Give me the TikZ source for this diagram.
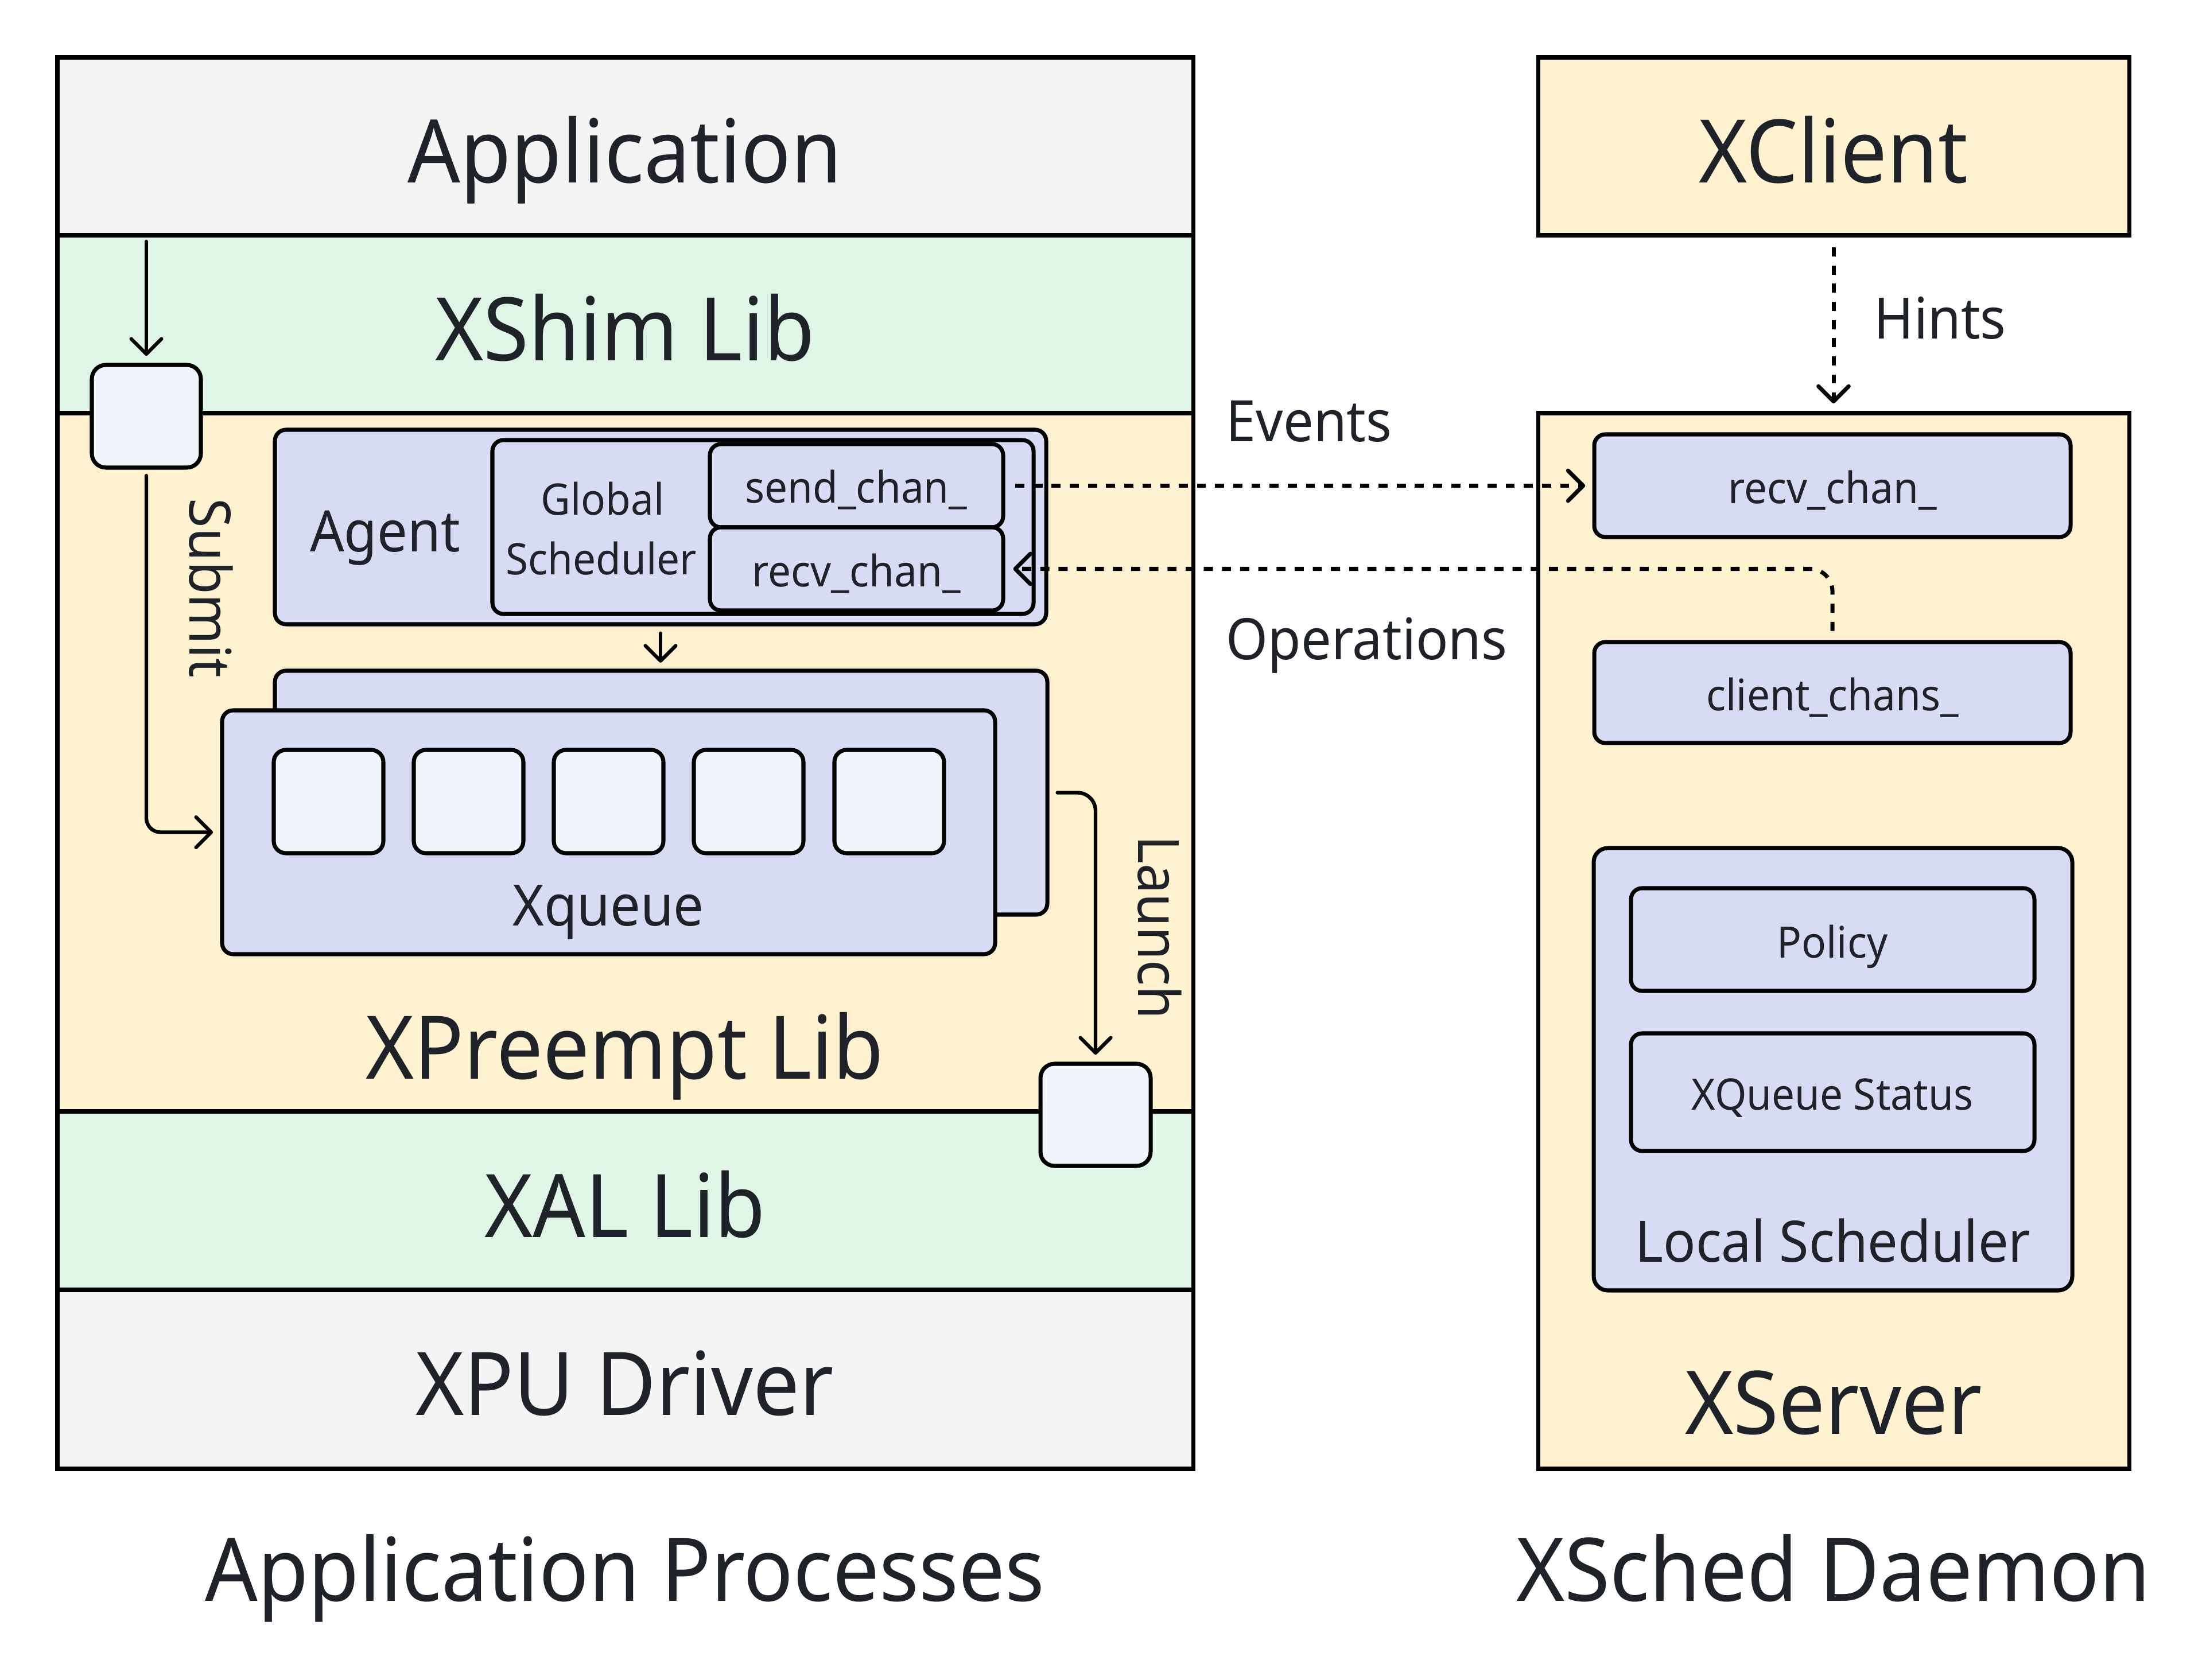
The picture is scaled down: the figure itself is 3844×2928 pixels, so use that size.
\documentclass[tikz,border=0pt]{standalone}
\usepackage{fontspec}
\setmainfont{Noto Sans}[FakeStretch=0.94]
\usetikzlibrary{arrows.meta,fit}
\definecolor{txt}{HTML}{1F2329}
\definecolor{greyc}{HTML}{F4F4F4}
\definecolor{greenc}{HTML}{DFF5E6}
\definecolor{yellowc}{HTML}{FEF2D0}
\definecolor{lavc}{HTML}{D7DCF4}
\definecolor{sqc}{HTML}{EFF4FD}
\begin{document}
\begin{tikzpicture}[x=0.01cm,y=-0.01cm,
  box/.style={draw=black, line width=2pt, inner sep=0pt, outer sep=0pt},
  rbox/.style={box, rounded corners=5.5pt, fill=lavc},
  sqbox/.style={box, rounded corners=7pt, fill=sqc},
  bigt/.style={font=\fontsize{43.5}{50}\selectfont, text=txt, inner sep=0pt, anchor=base},
  midt/.style={font=\fontsize{28.3}{34}\selectfont, text=txt, inner sep=0pt, anchor=base},
  smallt/.style={font=\fontsize{21.5}{26}\selectfont, text=txt, inner sep=0pt, anchor=base},
  arr/.style={line width=1.8pt, line cap=round, -{Straight Barb[length=7.5pt,width=15pt,line cap=round,line join=round]}},
  dotarr/.style={arr, line width=2pt, line cap=butt, dash pattern=on 4.5pt off 4.5pt}
]
\useasboundingbox (0,0) rectangle (3844,2928);
\fill[white] (0,0) rectangle (3844,2928);

% ---------- left stack ----------
\node[box, fill=greyc, fit={(100,100) (2079,410)}] (app) {};
\node[box, fill=greenc, fit={(100,410) (2079,720)}] (shim) {};
\node[box, fill=yellowc, fit={(100,720) (2079,1937)}] (preempt) {};
\node[box, fill=greenc, fit={(100,1937) (2079,2248)}] (xal) {};
\node[box, fill=greyc, fit={(100,2248) (2079,2560)}] (drv) {};

\node[bigt] (appT) at (1089,319) {Application};
\node[bigt] (shimT) at (1089,629) {XShim Lib};
\node[bigt] (preemptT) at (1089,1880) {XPreempt Lib};
\node[bigt] (xalT) at (1089,2156) {XAL Lib};
\node[bigt] (drvT) at (1089,2466) {XPU Driver};

% Agent
\node[rbox, fit={(479,749) (1823,1088)}] (agent) {};
\node[midt] (agentT) at (671,962) {Agent};
\node[rbox, fit={(858,767) (1801,1070)}] (gs) {};
\node[smallt] (gsT1) at (1050,898) {Global};
\node[smallt] (gsT2) at (1048,1002) {Scheduler};
\node[rbox, fit={(1237,774) (1748,919)}] (sendA) {};
\node[smallt] (sendAT) at (1492,877) {send\_chan\_};
\node[rbox, fit={(1237,919) (1748,1064)}] (recvA) {};
\node[smallt] (recvAT) at (1492,1023) {recv\_chan\_};

% Xqueue
\node[rbox, fit={(479,1169) (1825,1594)}] (xqb) {};
\node[rbox, fit={(387,1238) (1734,1663)}] (xqf) {};
\node[sqbox, rounded corners=6pt, fit={(477,1307) (668,1487)}] (q1) {};
\node[sqbox, rounded corners=6pt, fit={(721,1307) (912,1487)}] (q2) {};
\node[sqbox, rounded corners=6pt, fit={(965,1307) (1156,1487)}] (q3) {};
\node[sqbox, rounded corners=6pt, fit={(1209,1307) (1400,1487)}] (q4) {};
\node[sqbox, rounded corners=6pt, fit={(1454,1307) (1645,1487)}] (q5) {};
\node[midt] (xqT) at (1060,1613) {Xqueue};

% small squares
\node[sqbox, fit={(160,636) (350,815)}] (sq1) {};
\node[sqbox, fit={(1813,1854) (2005,2032)}] (sq2) {};

% left connectors
\draw[arr, shorten >=4.5pt] ([yshift=-0.11cm]sq1.north |- shim.north) -- (sq1.north);
\draw[arr, rounded corners=7pt, shorten <=4pt, shorten >=4.5pt] (sq1.south) |- (xqf.west);
\node[midt, rotate=-90] (submitT) at (330,1025) {Submit};
\draw[arr, shorten <=4.5pt, shorten >=4pt] (agent.south) -- (agent.south |- xqb.north);
\draw[arr, rounded corners=9pt, shorten <=5pt, shorten >=4.5pt] (xqb.east) -| (sq2.north);
\node[midt, rotate=-90] (launchT) at (1983,1616) {Launch};

% ---------- right side ----------
\node[box, fill=yellowc, fit={(2680,100) (3710,410)}] (client) {};
\node[bigt] (clientT) at (3195,319) {XClient};
\node[box, fill=yellowc, fit={(2680,720) (3710,2560)}] (server) {};
\node[bigt] (serverT) at (3195,2499) {XServer};

\node[rbox, fit={(2778,757) (3608,936)}] (recvS) {};
\node[smallt] (recvST) at (3193,878) {recv\_chan\_};
\node[rbox, fit={(2778,1119) (3608,1295)}] (cchan) {};
\node[smallt] (cchanT) at (3193,1239) {client\_chans\_};

\node[rbox, rounded corners=7pt, fit={(2777,1478) (3611,2249)}] (lsched) {};
\node[rbox, fit={(2842,1548) (3545,1727)}] (policy) {};
\node[smallt] (policyT) at (3193,1669) {Policy};
\node[rbox, fit={(2842,1801) (3545,2006)}] (xqs) {};
\node[smallt] (xqsT) at (3193,1934) {XQueue Status};
\node[midt] (lschedT) at (3194,2199) {Local Scheduler};

% cross connectors
\draw[dotarr, shorten <=6pt, shorten >=4.5pt] (sendA.east) -- (recvS.west);
\draw[dotarr, rounded corners=11pt, shorten <=5.5pt, shorten >=5pt] (cchan.north) |- (recvA.east);
\draw[dotarr, shorten <=6pt, shorten >=4.8pt] (client.south) -- (client.south |- server.north);

\node[midt, anchor=base west] (eventsT) at (2136,770) {Events};
\node[midt, anchor=base west] (opsT) at (2136,1150) {Operations};
\node[midt, anchor=base west] (hintsT) at (3265,591) {Hints};

% ---------- captions ----------
\node[bigt] (capL) at (1089,2790) {Application Processes};
\node[bigt] (capR) at (3195,2790) {XSched Daemon};
\end{tikzpicture}
\end{document}
